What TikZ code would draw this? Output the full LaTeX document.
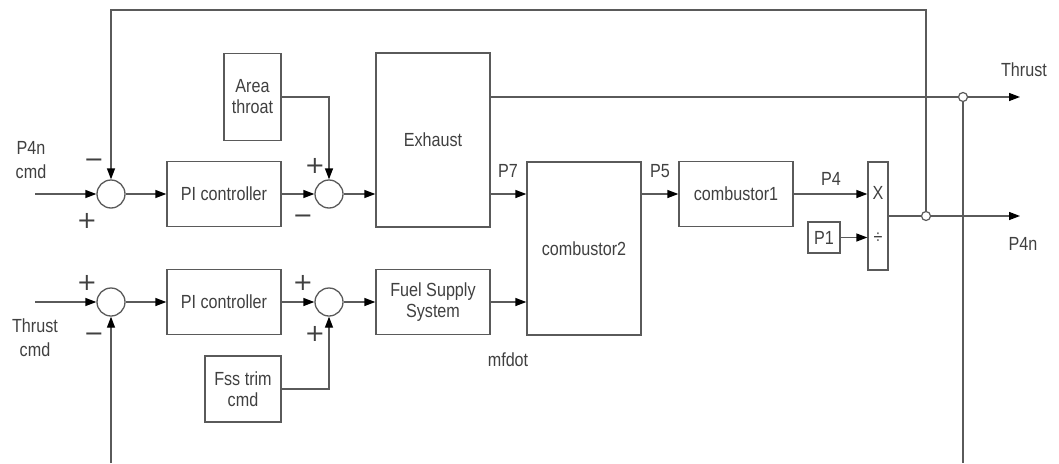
\documentclass[tikz,border=0pt]{standalone}
\usepackage{fontspec}
\setmainfont{Liberation Sans}[FakeStretch=0.85]
\newfontfamily\signfont{DejaVu Sans}
\usetikzlibrary{arrows.meta}
\definecolor{linegray}{HTML}{5A5A5A}
\definecolor{txtgray}{HTML}{404040}
\tikzset{
  ln/.style={draw=linegray, line width=1.3pt},
  arr/.style={ln, -{Triangle[length=11pt,width=8pt,color=black]}},
  blk/.style={draw=linegray, line width=1.3pt, rectangle, inner sep=0pt, align=center,
    text=txtgray, font=\fontsize{19}{21}\selectfont},
  sumnode/.style={circle, draw=linegray, line width=1.3pt, minimum size=28pt, inner sep=0pt},
  junc/.style={circle, draw=linegray, fill=white, line width=1.2pt, minimum size=9pt, inner sep=0pt},
  lbl/.style={text=txtgray, inner sep=0pt, align=center, font=\fontsize{19}{24}\selectfont},
  sgn/.style={text=txtgray, inner sep=0pt, font=\signfont\fontsize{24}{24}\selectfont}
}
\begin{document}
\begin{tikzpicture}[x=1pt,y=-1pt]
\useasboundingbox (0,0) rectangle (1059,463);
% blocks
\node[blk,minimum width=114pt,minimum height=65pt] (pi1) at (224,194) {PI controller};
\node[blk,minimum width=57pt,minimum height=87pt] (area) at (252.5,97) {Area\\throat};
\node[blk,minimum width=114pt,minimum height=174pt] (ex) at (433,140) {Exhaust};
\node[blk,minimum width=114pt,minimum height=173pt] (cb2) at (584,248.5) {combustor2};
\node[blk,minimum width=114pt,minimum height=65pt] (cb1) at (736,194) {combustor1};
\node[blk,minimum width=20pt,minimum height=108pt] (md) at (878,216) {};
\node[blk] (mx) at (878,193) [draw=none] {X};
\node[blk] (mdv) at (878,238) [draw=none] {÷};
\node[blk,minimum width=32pt,minimum height=31pt] (p1) at (824,237.5) {P1};
\node[blk,minimum width=114pt,minimum height=65pt] (pi2) at (224,302) {PI controller};
\node[blk,minimum width=114pt,minimum height=65pt] (fss) at (433,302) {Fuel Supply\\System};
\node[blk,minimum width=76pt,minimum height=66pt] (trim) at (243,389) {Fss trim\\cmd};
% summing junctions
\node[sumnode] (s1) at (111,194) {};
\node[sumnode] (s2) at (329,194) {};
\node[sumnode] (s3) at (111,302) {};
\node[sumnode] (s4) at (329,302) {};
% coordinates
\coordinate (in1) at (35,194);
\coordinate (in2) at (35,302);
\coordinate (thr) at (1020,97);
\coordinate (p4n) at (1020,216);
\coordinate (j1c) at (963,97);
\coordinate (j2c) at (926,216);
\coordinate (tr) at (926,10);
\coordinate (tl) at (111,10);
\coordinate (bot1) at (963,463);
\coordinate (bot2) at (111,463);
% connectors row 1
\draw[arr] (in1) -- (s1.west);
\draw[arr] (s1.east) -- (pi1.west);
\draw[arr] (pi1.east) -- (s2.west);
\draw[arr] (area.east) -| (s2.north);
\draw[arr] (s2.east) -- (s2.east -| ex.west);
\draw[arr] (ex.east |- s2) -- (cb2.west |- s2);
\draw[arr] (cb2.east |- s2) -- (cb1.west);
\draw[arr] (cb1.east) -- (cb1.east -| md.west);
\draw[arr] (p1.east) -- (p1.east -| md.west);
\draw[arr] (ex.east |- thr) -- (thr);
\draw[arr] (md.east) -- (p4n);
\draw[arr] (j2c) -- (tr) -- (tl) -- (s1.north);
\draw[ln] (j1c) -- (bot1);
% connectors row 2
\draw[arr] (in2) -- (s3.west);
\draw[arr] (bot2) -- (s3.south);
\draw[arr] (s3.east) -- (pi2.west);
\draw[arr] (pi2.east) -- (s4.west);
\draw[arr] (trim.east) -| (s4.south);
\draw[arr] (s4.east) -- (fss.west);
\draw[arr] (fss.east) -- (fss.east -| cb2.west);
% junction dots
\node[junc] (j1) at (j1c) {};
\node[junc] (j2) at (j2c) {};
% labels
\node[lbl] (l1) at (31,160) {P4n\\cmd};
\node[lbl] (l2) at (35,338) {Thrust\\cmd};
\node[lbl] (l3) at (508,171) {P7};
\node[lbl] (l4) at (660,171) {P5};
\node[lbl] (l5) at (831,179) {P4};
\node[lbl] (l6) at (1024,70) {Thrust};
\node[lbl] (l7) at (1023,244) {P4n};
\node[lbl] (l8) at (508,360) {mfdot};
% signs
\node[sgn] (g1) at (94,163) {−};
\node[sgn] (g2) at (87,221) {+};
\node[sgn] (g3) at (315,166) {+};
\node[sgn] (g4) at (303,219) {−};
\node[sgn] (g5) at (87,283) {+};
\node[sgn] (g6) at (94,337) {−};
\node[sgn] (g7) at (303,283) {+};
\node[sgn] (g8) at (315,334) {+};
\end{tikzpicture}
\end{document}
